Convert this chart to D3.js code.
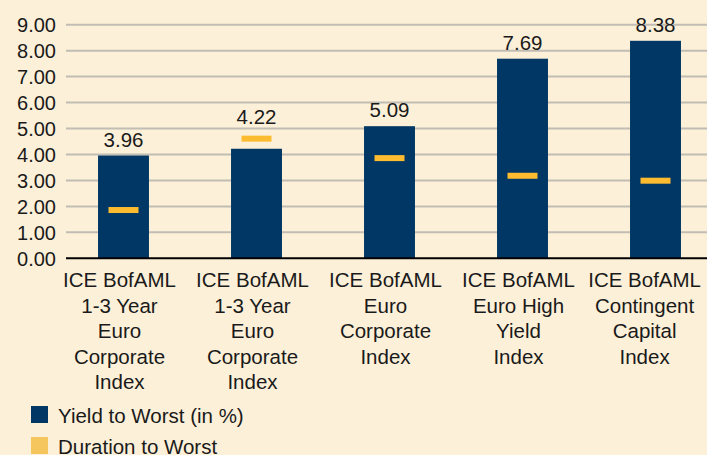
<!DOCTYPE html>
<html>
<head>
<meta charset="utf-8">
<script src="https://cdn.jsdelivr.net/npm/d3@7"></script>
<style>
  body { margin: 0; background: #FCF0D9; }
  svg { display: block; }
  text { font-family: "Liberation Sans", Arial, sans-serif; fill: #1a1a1a; }
</style>
</head>
<body>
<svg id="chart" width="707" height="455"></svg>
<script>
// data
let categories = [
  ["ICE BofAML", "1-3 Year", "Euro", "Corporate", "Index"],
  ["ICE BofAML", "1-3 Year", "Euro", "Corporate", "Index"],
  ["ICE BofAML", "Euro", "Corporate", "Index"],
  ["ICE BofAML", "Euro High", "Yield", "Index"],
  ["ICE BofAML", "Contingent", "Capital", "Index"]
];
let yieldToWorst = [3.96, 4.22, 5.09, 7.69, 8.38];
let durationToWorst = [1.86, 4.61, 3.86, 3.18, 2.99];
let yTicks = [0, 1, 2, 3, 4, 5, 6, 7, 8, 9];
let legendLabels = ["Yield to Worst (in %)", "Duration to Worst"];

let navy = "#003764";
let gold = "#FDBB30";
let legendGold = "#F5C55E";
let gridColor = "#C2BDB4";

let svg = d3.select("#chart");
let keys = categories.map((c, i) => "c" + i);

let x = d3.scaleBand()
  .domain(keys)
  .range([57, 722])
  .paddingInner(0.617)
  .paddingOuter(0.3085);

let y = d3.scaleLinear()
  .domain([0, 9])
  .range([258.3, 24.7]);

let gridLeft = 66, gridRight = 707;
let markerW = 30, markerH = 6;

// gridlines
svg.append("g")
  .selectAll("line")
  .data(yTicks.filter(d => d > 0))
  .enter().append("line")
  .attr("x1", gridLeft)
  .attr("x2", gridRight)
  .attr("y1", d => y(d))
  .attr("y2", d => y(d))
  .style("stroke", gridColor)
  .style("stroke-width", 2);

// y tick labels
svg.append("g")
  .selectAll("text")
  .data(yTicks)
  .enter().append("text")
  .attr("x", 56)
  .attr("y", d => y(d))
  .attr("dy", "0.36em")
  .attr("text-anchor", "end")
  .style("font-size", "20px")
  .text(d => d.toFixed(2));

// bars
svg.append("g")
  .selectAll("rect")
  .data(yieldToWorst)
  .enter().append("rect")
  .attr("x", (d, i) => x(keys[i]))
  .attr("y", d => y(d))
  .attr("width", x.bandwidth())
  .attr("height", d => y(0) - y(d))
  .style("fill", navy);

// duration markers
svg.append("g")
  .selectAll("rect")
  .data(durationToWorst)
  .enter().append("rect")
  .attr("x", (d, i) => x(keys[i]) + x.bandwidth() / 2 - markerW / 2)
  .attr("y", d => y(d) - markerH / 2)
  .attr("width", markerW)
  .attr("height", markerH)
  .style("fill", gold);

// value labels, lifted above the marker when it sits over the bar
svg.append("g")
  .selectAll("text")
  .data(yieldToWorst)
  .enter().append("text")
  .attr("x", (d, i) => x(keys[i]) + x.bandwidth() / 2)
  .attr("y", (d, i) => Math.min(y(d), y(durationToWorst[i]) - markerH / 2 - 3) - 8.7)
  .attr("text-anchor", "middle")
  .style("font-size", "20.5px")
  .text(d => d.toFixed(2));

// baseline
svg.append("line")
  .attr("x1", gridLeft)
  .attr("x2", gridRight)
  .attr("y1", y(0))
  .attr("y2", y(0))
  .style("stroke", "#000")
  .style("stroke-width", 2);

// category labels
let catG = svg.append("g")
  .selectAll("text")
  .data(categories)
  .enter().append("text")
  .attr("text-anchor", "middle")
  .style("font-size", "20.5px");

catG.selectAll("tspan")
  .data((d, i) => d.map(line => ({ line: line, i: i })))
  .enter().append("tspan")
  .attr("y", (d, j) => 287 + j * 25.5)
  .text(d => d.line);

// centre each label a little left of its bar, and keep it inside the frame
catG.each(function(d, i) {
  let t = d3.select(this);
  let w = 0;
  t.selectAll("tspan").each(function() { w = Math.max(w, this.getComputedTextLength()); });
  let cx = x(keys[i]) + x.bandwidth() / 2 - 4;
  cx = Math.min(cx, 701 - w / 2);
  t.selectAll("tspan").attr("x", cx);
});

// legend
let legendColors = [navy, legendGold];
let legend = svg.append("g")
  .selectAll("g")
  .data(legendLabels)
  .enter().append("g")
  .attr("transform", (d, i) => "translate(31," + (406 + i * 31) + ")");

legend.append("rect")
  .attr("width", 17)
  .attr("height", 17)
  .style("fill", (d, i) => legendColors[i]);

legend.append("text")
  .attr("x", 27)
  .attr("y", 16.5)
  .style("font-size", "20.5px")
  .text(d => d);
</script>
</body>
</html>
